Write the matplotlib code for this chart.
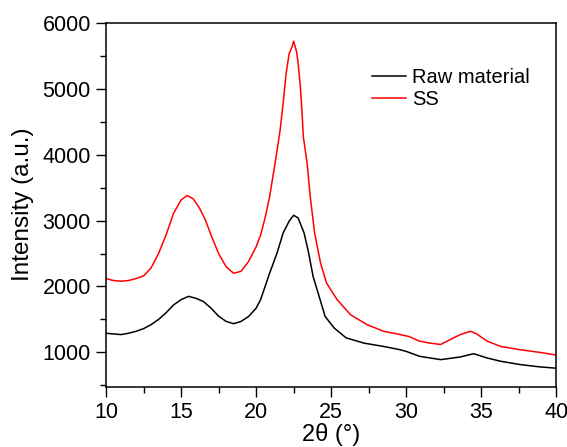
import matplotlib.pyplot as plt
from matplotlib.ticker import MultipleLocator

plt.rcParams['font.family'] = ['Liberation Sans', 'DejaVu Sans']

# 2theta positions and intensities
two_theta_ss = [10.0, 10.5, 11.0, 11.5, 12.0, 12.5, 13.0, 13.5, 14.0, 14.5,
                15.0, 15.4, 15.8, 16.2, 16.6, 17.0, 17.5, 18.0, 18.5, 19.0,
                19.5, 20.0, 20.3, 20.6, 20.9, 21.3, 21.6, 21.8, 22.0, 22.2,
                22.4, 22.5, 22.7, 22.8, 22.95, 23.05, 23.15, 23.4, 23.6, 23.9,
                24.3, 24.7, 25.4, 26.3, 27.4, 28.5, 29.6, 30.2, 30.9, 31.6,
                32.3, 32.9, 33.6, 34.3, 34.7, 35.4, 36.3, 37.6, 38.9, 40.0]
intensity_ss = [2120, 2090, 2080, 2090, 2120, 2160, 2280, 2500, 2780, 3110,
                3310, 3380, 3330, 3200, 3020, 2780, 2500, 2300, 2200, 2230,
                2380, 2600, 2780, 3040, 3360, 3920, 4370, 4780, 5230, 5530,
                5640, 5720, 5560, 5390, 5030, 4680, 4270, 3870, 3380, 2810,
                2350, 2050, 1800, 1570, 1420, 1320, 1270, 1240, 1170, 1140,
                1120, 1190, 1270, 1320, 1280, 1170, 1090, 1040, 1000, 960]

two_theta_raw = [10.0, 10.5, 11.0, 11.5, 12.0, 12.5, 13.0, 13.5, 14.0, 14.5,
                 15.0, 15.5, 16.0, 16.5, 17.0, 17.5, 18.0, 18.5, 19.0, 19.5,
                 20.0, 20.3, 20.9, 21.4, 21.8, 22.2, 22.5, 22.8, 23.2, 23.5,
                 23.8, 24.2, 24.6, 25.2, 26.0, 27.2, 28.5, 29.6, 30.0, 30.9,
                 32.3, 33.6, 34.5, 35.4, 36.3, 37.6, 38.9, 40.0]
intensity_raw = [1290, 1280, 1270, 1290, 1320, 1360, 1420, 1500, 1600, 1720,
                 1800, 1850, 1820, 1770, 1670, 1550, 1470, 1435, 1470, 1545,
                 1670, 1800, 2200, 2510, 2810, 2990, 3080, 3040, 2810, 2510,
                 2150, 1850, 1545, 1370, 1220, 1140, 1090, 1040, 1015, 940,
                 890, 930, 980, 915, 865, 815, 780, 760]

fig = plt.figure(figsize=(5.67, 4.47), dpi=100)
ax = fig.add_axes([0.187, 0.135, 0.794, 0.814])

ax.plot(two_theta_raw, intensity_raw, color='black', lw=1.1, label='Raw material')
ax.plot(two_theta_ss, intensity_ss, color='red', lw=1.1, label='SS')

ax.set_xlim(10, 40)
ax.set_ylim(480, 6000)
ax.xaxis.set_major_locator(MultipleLocator(5))
ax.xaxis.set_minor_locator(MultipleLocator(2.5))
ax.yaxis.set_major_locator(MultipleLocator(1000))
ax.yaxis.set_minor_locator(MultipleLocator(500))
ax.tick_params(which='both', direction='out', labelsize=15.5, width=1)
ax.tick_params(which='major', length=7, pad=4)
ax.tick_params(which='minor', length=4)
for s in ax.spines.values():
    s.set_linewidth(1.1)

ax.set_xlabel('2θ (°)', fontsize=17, labelpad=0)
ax.set_ylabel('Intensity (a.u.)', fontsize=17.5, labelpad=6)

ax.legend(loc='upper left', bbox_to_anchor=(0.572, 0.898), frameon=False,
          fontsize=14.5, handlelength=1.7, handletextpad=0.3, labelspacing=0.15,
          borderaxespad=0)

fig.savefig('out.png', dpi=100)
